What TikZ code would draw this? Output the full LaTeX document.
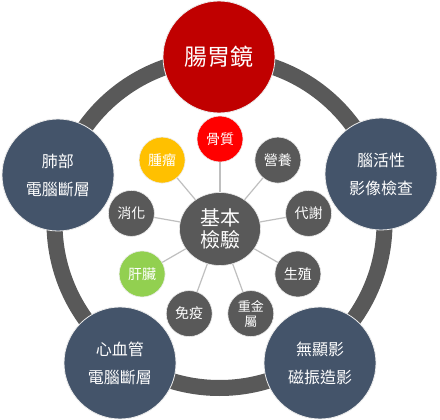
\documentclass[tikz,border=0pt]{standalone}
\usepackage{fontspec}
\newfontfamily\cjk{Noto Sans CJK TC}
\usetikzlibrary{shapes.geometric}
\definecolor{navy}{HTML}{44546A}
\definecolor{dgray}{HTML}{595959}
\definecolor{dred}{HTML}{C00000}
\definecolor{bred}{HTML}{FF0000}
\definecolor{amber}{HTML}{FFC000}
\definecolor{lgreen}{HTML}{92D050}
\definecolor{conn}{HTML}{BFBFBF}
\tikzset{
  bigc/.style={circle,fill=navy,draw=white!85!gray,line width=0.8pt,minimum size=112pt,inner sep=0pt,text=white,align=center,font=\cjk\fontsize{16}{28}\selectfont},
  smallc/.style={circle,fill=dgray,draw=white!85!gray,line width=0.6pt,minimum size=46pt,inner sep=0pt,text=white,align=center,font=\cjk\fontsize{14}{15}\selectfont},
  hub/.style={ellipse,fill=dgray,draw=white!85!gray,line width=0.6pt,minimum width=81pt,minimum height=73pt,inner sep=0pt,text=white,align=center,font=\cjk\fontsize{20}{22}\selectfont},
  spoke/.style={draw=conn,line width=1.2pt},
  ringline/.style={draw=dgray,line width=16pt}
}
\begin{document}
\begin{tikzpicture}[x=1pt,y=-1pt]
\useasboundingbox (0,0) rectangle (440,420);
\fill[white] (0,0) rectangle (440,420);
\draw[ringline] (219.5,223) circle (165pt);
\node[bigc,fill=dred,font=\cjk\fontsize{23}{28}\selectfont] (top) at (219,57) {腸胃鏡};
\node[bigc] (left) at (58,175) {肺部\\電腦斷層};
\node[bigc] (right) at (381,174) {腦活性\\影像檢查};
\node[bigc] (bl) at (120,363) {心血管\\電腦斷層};
\node[bigc] (br) at (320,363) {無顯影\\磁振造影};
\node[hub] (c) at (220,229) {基本\\檢驗};
\node[smallc,fill=bred] (s1) at (220,139) {骨質};
\node[smallc] (s2) at (277.9,160.1) {營養};
\node[smallc] (s3) at (308.6,213.4) {代謝};
\node[smallc] (s4) at (297.9,274) {生殖};
\node[smallc,font=\cjk\fontsize{13}{15}\selectfont] (s5) at (250.8,313.6) {重金\\屬};
\node[smallc] (s6) at (189.2,313.6) {免疫};
\node[smallc,fill=lgreen] (s7) at (142.1,274) {肝臟};
\node[smallc] (s8) at (131.4,213.4) {消化};
\node[smallc,fill=amber] (s9) at (162.1,160.1) {腫瘤};
\foreach \s in {s1,s2,s3,s4,s5,s6,s7,s8,s9}
  \draw[spoke] (c) -- (\s);
\end{tikzpicture}
\end{document}
